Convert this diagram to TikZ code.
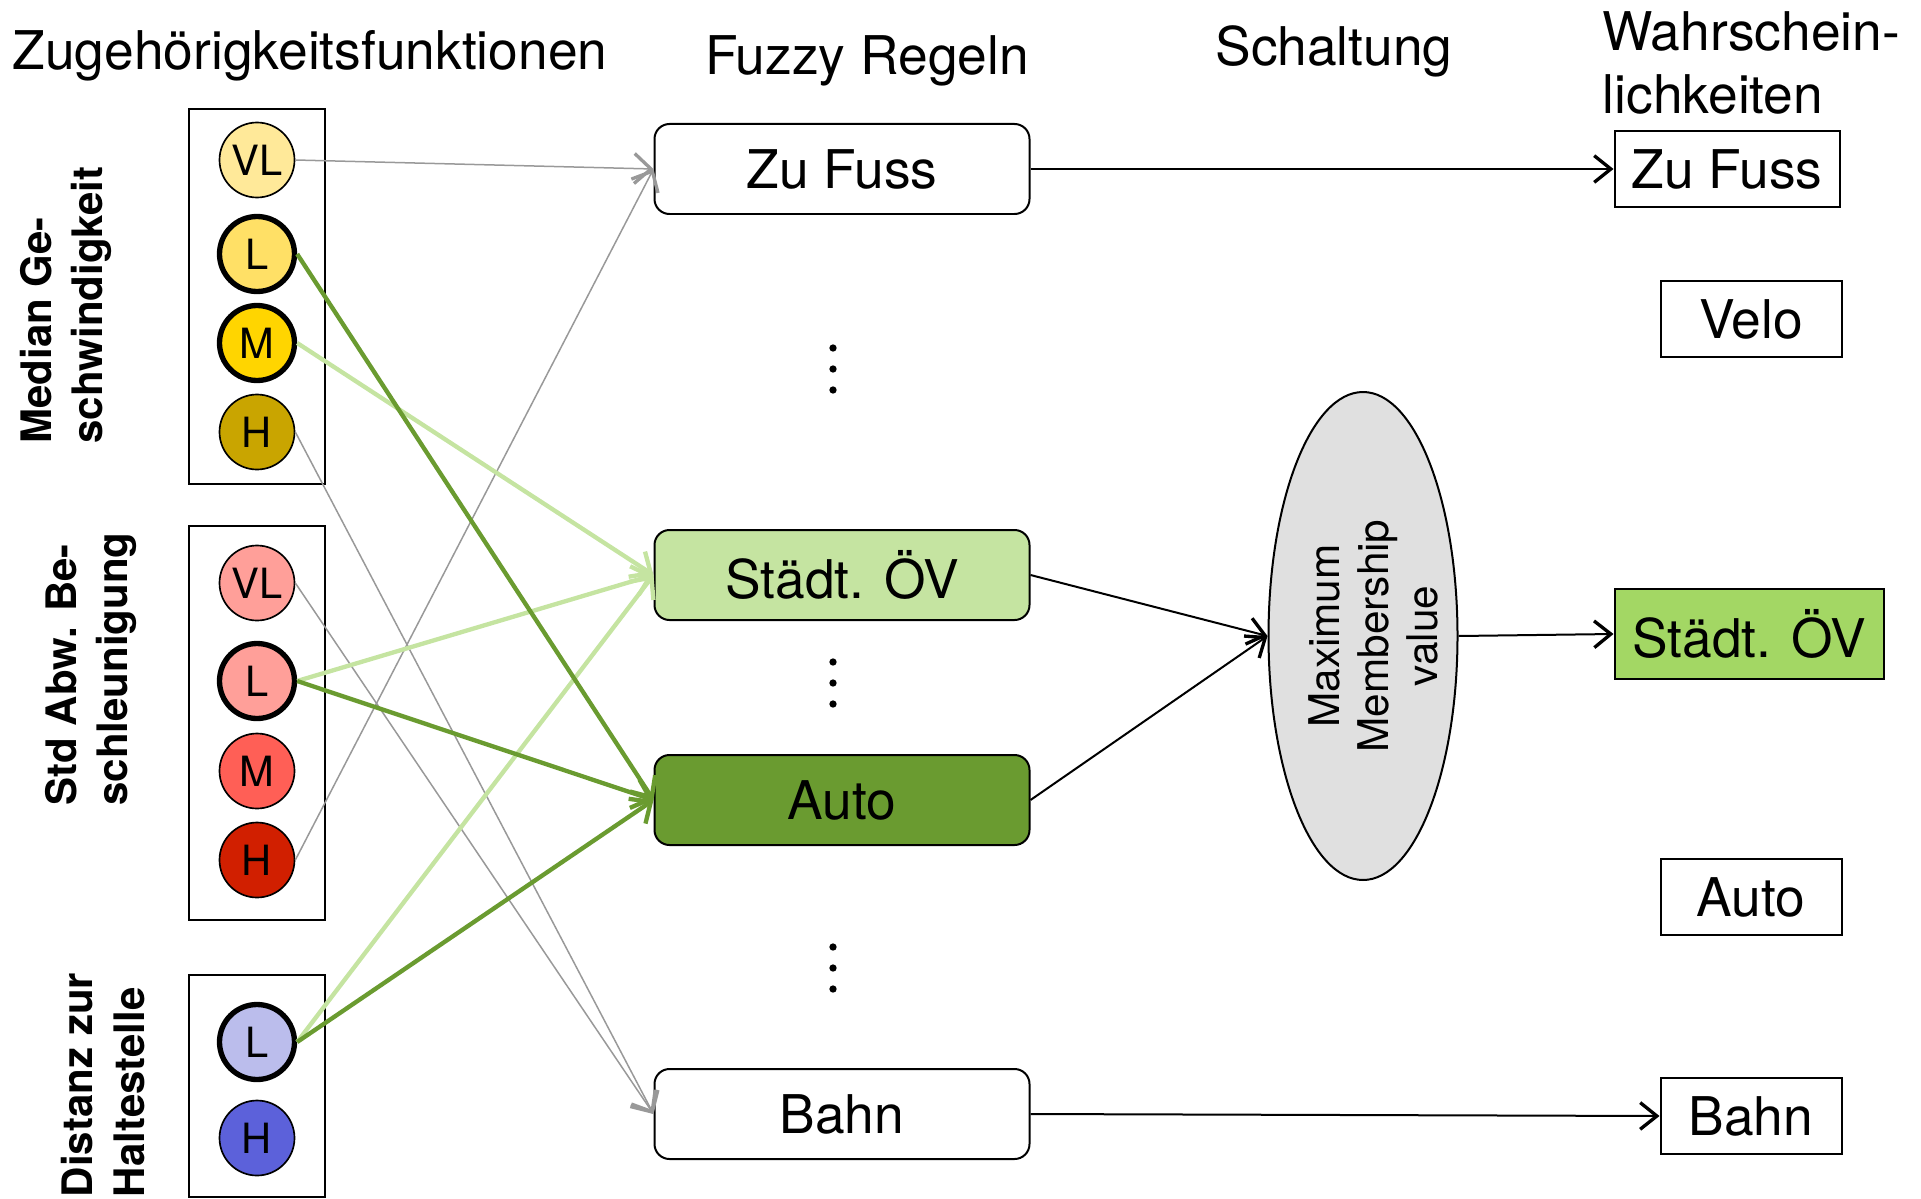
\documentclass[tikz,border=0pt]{standalone}
\usepackage{fontspec}
\setmainfont{TeX Gyre Heros}
\usetikzlibrary{arrows.meta,positioning,shapes.geometric}
\definecolor{spVL}{HTML}{FFE999}
\definecolor{spL}{HTML}{FFE066}
\definecolor{spM}{HTML}{FFD500}
\definecolor{spH}{HTML}{C9A500}
\definecolor{acVL}{HTML}{FF9F99}
\definecolor{acL}{HTML}{FF9F99}
\definecolor{acM}{HTML}{FF5F56}
\definecolor{acH}{HTML}{D11F00}
\definecolor{diL}{HTML}{BBBDEC}
\definecolor{diH}{HTML}{5C61DA}
\definecolor{ruleOV}{HTML}{C5E4A1}
\definecolor{ruleAuto}{HTML}{6A9B30}
\definecolor{outOV}{HTML}{A3D764}
\definecolor{mmvGray}{HTML}{E0E0E0}
\definecolor{lineGray}{HTML}{999999}

\begin{document}
\begin{tikzpicture}[x=0.3pt,y=-0.3pt,every node/.style={font=\fontsize{16}{19}\selectfont},
  mf/.style={circle,draw,minimum size=22.5pt,inner sep=0pt,font=\fontsize{12.5}{14}\selectfont},
  grp/.style={draw,line width=0.6pt,minimum width=40.8pt,inner sep=0pt},
  rulebox/.style={draw,line width=0.6pt,rounded corners=4.5pt,minimum width=112.5pt,minimum height=27pt},
  probbox/.style={draw,line width=0.6pt,minimum height=22.6pt,inner sep=0pt},
  side/.style={rotate=90,align=left,font=\bfseries\fontsize{12.6}{15.5}\selectfont},
  gline/.style={-{Straight Barb[length=5pt,width=9pt,line width=1pt]},line width=0.45pt,lineGray},
  lgline/.style={-{Straight Barb[length=5pt,width=9pt]},line width=1.3pt,ruleOV},
  dgline/.style={-{Straight Barb[length=5pt,width=9pt]},line width=1.3pt,ruleAuto},
  bline/.style={-{Straight Barb[length=5pt,width=8pt,line width=1pt]},line width=0.6pt}]
  \useasboundingbox (0,0) rectangle (1921,1198);

  % column titles
  \node[anchor=base] (tZug) at (310,70) {Zugehörigkeitsfunktionen};
  \node[anchor=base] (tFuz) at (867,75) {Fuzzy Regeln};
  \node[anchor=base] (tSch) at (1334,66) {Schaltung};
  \node[anchor=north west,align=left,inner sep=0pt,font=\fontsize{16}{18.9}\selectfont] (tWah) at (1602,11) {Wahrschein-\\lichkeiten};

  % membership functions
  \node[grp,minimum height=112.5pt] (gSpeed) at (257,296.5) {};
  \node[grp,minimum height=118.2pt] (gAcc) at (257,723) {};
  \node[grp,minimum height=66.6pt] (gDist) at (257,1086) {};
  \foreach \n/\y/\w in {VL/160/0.5pt,L/254/1.6pt,M/343/1.6pt,H/432/0.5pt}
    \node[mf,fill=sp\n,line width=\w] (s\n) at (257,\y) {\n};
  \foreach \n/\y/\w in {VL/583/0.5pt,L/681/1.6pt,M/771/0.5pt,H/860/0.5pt}
    \node[mf,fill=ac\n,line width=\w] (a\n) at (257,\y) {\n};
  \foreach \n/\y/\w in {L/1042/1.6pt,H/1138/0.5pt}
    \node[mf,fill=di\n,line width=\w] (d\n) at (257,\y) {\n};
  \node[side] (lSpeed) at (66,305) {Median Ge-\\schwindigkeit};
  \node[side] (lAcc) at (91,669) {Std Abw. Be-\\schleunigung};
  \node[side] (lDist) at (103,1085) {Distanz zur\\Haltestelle};

  % rules
  \node[rulebox,fill=white] (rFuss) at (842,169) {Zu Fuss};
  \node[rulebox,fill=ruleOV] (rOV) at (842,575) {Städt. ÖV};
  \node[rulebox,fill=ruleAuto] (rAuto) at (842,800) {Auto};
  \node[rulebox,fill=white] (rBahn) at (842,1114) {Bahn};
  \foreach \y in {369,683,968}
    \foreach \d in {-21,0,21}
      \fill (833,\y+\d) circle (1.1pt);

  % switch
  \node[ellipse,draw,line width=0.6pt,fill=mmvGray,minimum width=56.7pt,minimum height=146.4pt,inner sep=0pt] (mmv) at (1363,636) {};
  \node[rotate=90,align=center,font=\fontsize{12.7}{14.7}\selectfont] (mmvT) at ([xshift=3pt]mmv.center) {Maximum\\Membership\\value};

  % probabilities
  \node[probbox,minimum width=67.5pt] (oFuss) at (1727,169) {Zu Fuss};
  \node[probbox,minimum width=54.3pt] (oVelo) at (1751,319) {Velo};
  \node[probbox,minimum width=80.7pt,minimum height=27pt,fill=outOV] (oOV) at (1749,634) {Städt. ÖV};
  \node[probbox,minimum width=54.3pt] (oAuto) at (1751,897) {Auto};
  \node[probbox,minimum width=54.3pt] (oBahn) at (1751,1116) {Bahn};

  % connections
  \draw[gline] (sVL.east) -- (rFuss.west);
  \draw[gline] (aH.east) -- (rFuss.west);
  \draw[gline] (sH.east) -- (rBahn.west);
  \draw[gline] (aVL.east) -- (rBahn.west);
  \draw[lgline] (sM.east) -- (rOV.west);
  \draw[lgline] (aL.east) -- (rOV.west);
  \draw[lgline] (dL.east) -- (rOV.west);
  \draw[dgline] (sL.east) -- (rAuto.west);
  \draw[dgline] (aL.east) -- (rAuto.west);
  \draw[dgline] (dL.east) -- (rAuto.west);
  \draw[bline] (rFuss.east) -- (oFuss.west);
  \draw[bline] (rBahn.east) -- (oBahn.west);
  \draw[bline] (rOV.east) -- (mmv.west);
  \draw[bline] (rAuto.east) -- (mmv.west);
  \draw[bline] (mmv.east) -- (oOV.west);
\end{tikzpicture}
\end{document}
